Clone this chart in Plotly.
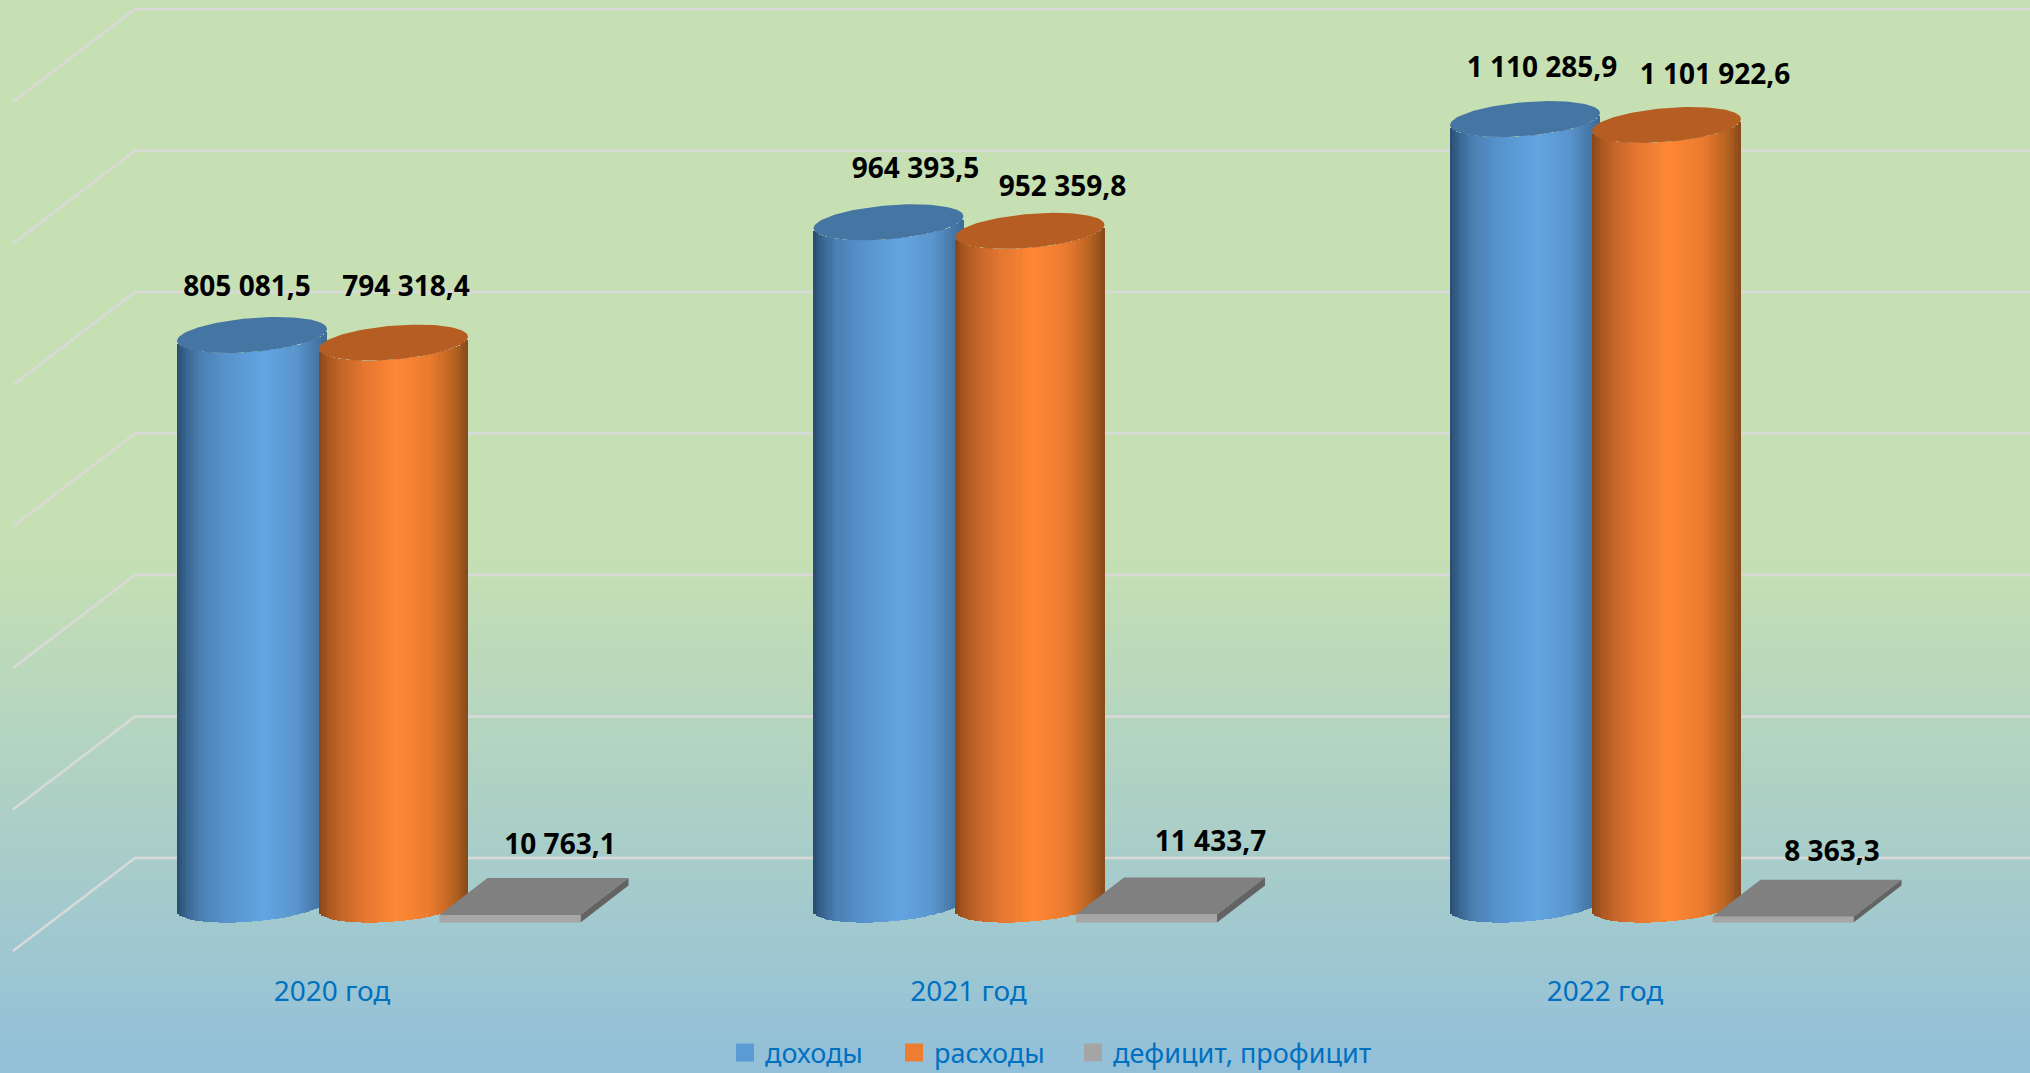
import numpy as np
import plotly.graph_objects as go

# ---- data ----
categories = ["2020 год", "2021 год", "2022 год"]
dohody = [805081.5, 964393.5, 1110285.9]
rashody = [794318.4, 952359.8, 1101922.6]
deficit = [10763.1, 11433.7, 8363.3]
dohody_labels = ["805 081,5", "964 393,5", "1 110 285,9"]
rashody_labels = ["794 318,4", "952 359,8", "1 101 922,6"]
deficit_labels = ["10 763,1", "11 433,7", "8 363,3"]
grid_values = [0, 200000, 400000, 600000, 800000, 1000000, 1200000]
series_names = ["доходы", "расходы", "дефицит, профицит"]

# ---- geometry of the fake 3-D view (pixels of the 2030x1073 page) ----
W, H = 2030, 1073
GROUP_PX = 636.5
X0_PX = 332.0
Y0_PX = 904.6
PX_PER_UNIT = 0.7075 / 1000

xrange_ = [(0 - X0_PX) / GROUP_PX, (W - X0_PX) / GROUP_PX]
yrange_ = [(Y0_PX - H) / PX_PER_UNIT, Y0_PX / PX_PER_UNIT]


def dx(px):
    return px / GROUP_PX


def dy(px):
    """pixels downward -> value units"""
    return -px / PX_PER_UNIT


FONT = "Noto Sans"
BLUE_STOPS = [(0, "#294B6D"), (.06, "#38648F"), (.16, "#4A80B3"), (.3, "#5590C9"), (.58, "#62A5E2"),
              (.8, "#5A95CE"), (.93, "#4678A8"), (1, "#3C6A96")]
ORANGE_STOPS = [(0, "#854518"), (.06, "#A9571F"), (.16, "#C5662A"), (.3, "#E37630"), (.52, "#FF8835"),
                (.75, "#EA7A30"), (.92, "#B2601F"), (1, "#854A1C")]


def mix(stops, f):
    for (a, ca), (b, cb) in zip(stops, stops[1:]):
        if f <= b:
            t = (f - a) / (b - a)
            c1 = [int(ca[i:i + 2], 16) for i in (1, 3, 5)]
            c2 = [int(cb[i:i + 2], 16) for i in (1, 3, 5)]
            return "rgb(%d,%d,%d)" % tuple(round(p + (q - p) * t) for p, q in zip(c1, c2))
    return stops[-1][1]


ELL_B = 18.0
PHI = 0.34


def lower_arc_px(s):
    return ELL_B * np.sin(np.arccos(s) - PHI)


def cylinder(values, center_px, halfw_px, stops, name, cap_color):
    xs, bases, heights, widths, colors = [], [], [], [], []
    n = 56
    edges = np.linspace(-1, 1, n + 1)
    mids = (edges[:-1] + edges[1:]) / 2
    for g, v in enumerate(values):
        for s in mids:
            arc = lower_arc_px(s)
            xs.append(g + dx(center_px + s * halfw_px))
            bases.append(dy(arc))
            heights.append(v)
            widths.append(dx(2 * halfw_px / n * 1.35))
            colors.append(mix(stops, (s + 1) / 2))
    body = go.Bar(x=xs, y=heights, base=bases, width=widths, marker=dict(color=colors, line=dict(width=0)),
                  showlegend=False, xaxis="x2", yaxis="y2", hoverinfo="skip", name=name)
    t = np.linspace(0, 2 * np.pi, 120)
    cx, cy = [], []
    for g, v in enumerate(values):
        cx += list(g + dx(center_px + halfw_px * np.cos(t))) + [None]
        cy += list(v - dy(ELL_B * np.sin(t + PHI))) + [None]
    cap = go.Scatter(x=cx, y=cy, mode="lines", fill="toself", fillcolor=cap_color, line=dict(width=0),
                     showlegend=False, xaxis="x2", yaxis="y2", hoverinfo="skip")
    return body, cap


def poly_trace(xs, ys, color):
    return go.Scatter(x=xs, y=ys, mode="lines", fill="toself", fillcolor=color, line=dict(width=0),
                      showlegend=False, xaxis="x2", yaxis="y2", hoverinfo="skip")


traces = []

# background gradient
BG_TOP = np.array([198, 224, 180])
BG_BOT = np.array([147, 192, 218])
rows = 215
edges = np.linspace(yrange_[0], yrange_[1], rows + 1)
zvals = [[float(i)] for i in range(rows)]
cs_stops = []
for i in range(rows):
    py = H * (1 - (i + .5) / rows)
    f = np.clip((py - 560) / (1073 - 560), 0, 1)
    col = BG_TOP + (BG_BOT - BG_TOP) * f
    cs_stops.append([i / (rows - 1), "rgb(%d,%d,%d)" % tuple(col)])
traces.append(go.Heatmap(x=xrange_, y=edges, z=zvals, colorscale=cs_stops, showscale=False, hoverinfo="skip"))

# grid on the back wall and the left wall
BACK_SHIFT = dy(858 - Y0_PX)
gx, gy = [], []
for v in grid_values:
    yb = v + BACK_SHIFT
    gx += [(13 - X0_PX) / GROUP_PX, (135 - X0_PX) / GROUP_PX, xrange_[1], None]
    gy += [yb + dy(93), yb, yb, None]
traces.append(go.Scatter(x=gx, y=gy, mode="lines", line=dict(color="#D9D9D9", width=2.6), showlegend=False,
                         hoverinfo="skip"))

# cylinders
b_body, b_cap = cylinder(dohody, -80, 75, BLUE_STOPS, series_names[0], "#4575A2")
o_body, o_cap = cylinder(rashody, 61.5, 74.5, ORANGE_STOPS, series_names[1], "#B55D22")
traces += [b_body, o_body, b_cap, o_cap]

# flat bars
P_C, P_HW, P_FRONT = 178.0, 70.5, 18.0
D_X, D_Y = 48.0, 37.0
tx, ty, fx, fy, sx, sy = [], [], [], [], [], []
for g, v in enumerate(deficit):
    l, r = g + dx(P_C - P_HW), g + dx(P_C + P_HW)
    ddx = dx(D_X)
    base = dy(P_FRONT)
    top = base + v
    back = dy(-D_Y)
    tx += [l, r, r + ddx, l + ddx, l, None]
    ty += [top, top, top + back, top + back, top, None]
    fx += [l, r, r, l, l, None]
    fy += [base, base, top, top, base, None]
    sx += [r, r + ddx, r + ddx, r, r, None]
    sy += [base, base + back, top + back, top, base, None]
traces += [poly_trace(tx, ty, "#808080"), poly_trace(sx, sy, "#636363"), poly_trace(fx, fy, "#A6A6A6")]

# data labels: bar position + hand placement as in the reference
offs_blue = [(-5, -46), (27, -51), (17, -49)]
offs_orange = [(13, -54), (33, -42), (49, -48)]
offs_grey = [(50, -68), (64, -71), (49, -63)]
lx, ly, lt = [], [], []
for g in range(3):
    lx.append(g + dx(-80 + offs_blue[g][0])); ly.append(dohody[g] + dy(offs_blue[g][1])); lt.append(dohody_labels[g])
    lx.append(g + dx(61 + offs_orange[g][0])); ly.append(rashody[g] + dy(offs_orange[g][1])); lt.append(rashody_labels[g])
    lx.append(g + dx(P_C + offs_grey[g][0])); ly.append(deficit[g] + dy(P_FRONT + offs_grey[g][1])); lt.append(deficit_labels[g])
traces.append(go.Scatter(x=lx, y=ly, text=lt, mode="text", textposition="middle center",
                         textfont=dict(family=FONT, size=28, color="#000000", weight="bold"),
                         showlegend=False, xaxis="x2", yaxis="y2", hoverinfo="skip"))

# category labels
traces.append(go.Scatter(x=[0, 1, 2], y=[dy(993.5 - Y0_PX)] * 3, text=categories, mode="text",
                         textposition="middle center", textfont=dict(family=FONT, size=28, color="#0070C0"),
                         showlegend=False, xaxis="x2", yaxis="y2", hoverinfo="skip"))

# legend entries: one legend per entry so that the gaps can follow the reference
legend_ids = ["legend", "legend2", "legend3"]
legend_left_px = [725, 894, 1073]
for nm, col, lid in zip(series_names, ["#5B9BD5", "#ED7D31", "#A5A5A5"], legend_ids):
    traces.append(go.Scatter(x=[None], y=[None], mode="markers", name=nm, xaxis="x2", yaxis="y2", legend=lid,
                             marker=dict(symbol="square", size=16, color=col, line=dict(color=col, width=2))))

fig = go.Figure(traces)
ax = dict(range=xrange_, domain=[0, 1], visible=False, fixedrange=True)
ay = dict(range=yrange_, domain=[0, 1], visible=False, fixedrange=True)
legend_common = dict(xanchor="left", y=(1073 - 1053) / 1073, yanchor="middle", bgcolor="rgba(0,0,0,0)",
                     font=dict(family=FONT, size=27, color="#0070C0"), borderwidth=0)
fig.update_layout(
    width=W, height=H, margin=dict(l=0, r=0, t=0, b=0, pad=0, autoexpand=False),
    paper_bgcolor="#93C0DA", plot_bgcolor="rgba(0,0,0,0)",
    barmode="overlay", bargap=0,
    xaxis=ax, yaxis=ay,
    xaxis2=dict(ax, anchor="y2"), yaxis2=dict(ay, anchor="x2"),
    showlegend=True,
    legend=dict(legend_common, x=legend_left_px[0] / W),
    legend2=dict(legend_common, x=legend_left_px[1] / W),
    legend3=dict(legend_common, x=legend_left_px[2] / W),
)
fig.write_html("out.html", config=dict(displayModeBar=False),
               post_script="document.body.style.margin='0';document.body.style.overflow='hidden';")
